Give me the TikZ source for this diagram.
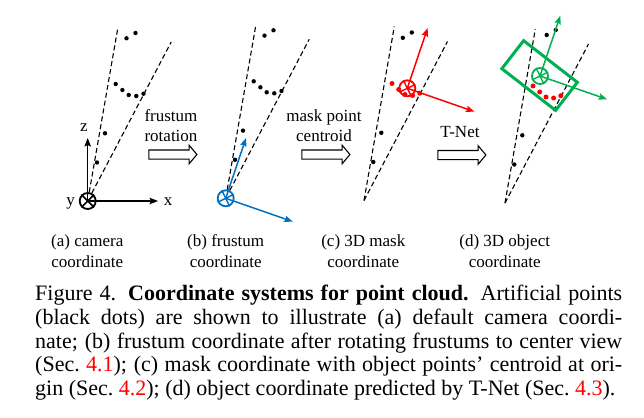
\documentclass[tikz,border=0pt]{standalone}
\usepackage{fontspec}
\setmainfont{Liberation Serif}
\usetikzlibrary{calc,positioning,shapes.arrows,arrows.meta}
\definecolor{camblue}{RGB}{0,112,192}
\definecolor{maskred}{RGB}{255,0,0}
\definecolor{objgreen}{RGB}{0,176,80}

\begin{document}
\begin{tikzpicture}
 [
  x = 1pt, y = -1pt,
  >={Stealth[length = 8.5pt, width = 6.5pt, inset = 1.5pt]},
  dot/.style  = {circle, fill = black, inner sep = 0pt, minimum size = 4.4pt},
  rdot/.style = {circle, fill = maskred, inner sep = 0pt, minimum size = 5pt},
  cam/.style  = {draw, circle, line width = 1.8pt, inner sep = 0pt, minimum size = 16pt},
  ray/.style  = {dash pattern = on 5pt off 3pt, line width = 1.1pt},
  ax/.style   = {->, line width = 1.5pt},
  flow/.style = {draw, single arrow, single arrow head extend = 4.8pt,
                 single arrow tip angle = 100, minimum width = 17.6pt,
                 minimum height = 48pt, inner xsep = 0pt, inner ysep = 4pt, line width = 1.1pt},
  txt/.style  = {font = \fontsize{17}{20}\selectfont, align = center, inner sep = 0pt},
 ]
 \useasboundingbox (0,0) rectangle (644,417);

 % (a) camera coordinate
 \node (ca) at (87.7,201) [cam]{};
 \draw[line width = 1.5pt] (ca.45) -- (ca.225) (ca.135) -- (ca.315);
 \coordinate (ca-l) at ($(ca)+(30.3,-174)$);
 \coordinate (ca-r) at ($(ca)+(83.5,-159)$);
 \draw[ray] (ca) -- (ca-l);
 \draw[ray] (ca) -- (ca-r);
 \foreach \dx/\dy [count=\i] in {38.8/-162.7, 47.8/-168, 28/-117, 34.7/-111, 41/-106,
                                 48.6/-105, 55.8/-107.3, 17.3/-67.7, 9.3/-38.5}
   \node[dot] (pa\i) at ($(ca)+(\dx,\dy)$) {};
 \coordinate (az) at (87.7,138);
 \coordinate (ax) at (158,201);
 \draw[ax] (ca.center) -- (az);
 \draw[ax] (ca.center) -- (ax);
 \node[txt, anchor = base] (zl) at (84,131) {z};
 \node[txt, anchor = base] (xl) at (168,205) {x};
 \node[txt, anchor = base] (yl) at (70.5,205) {y};

 % (b) frustum coordinate
 \node (cb) at (225.7,198.3) [cam, draw = camblue]{};
 \draw[line width = 1.4pt, camblue] (cb.26) -- (cb.206) (cb.116) -- (cb.296);
 \coordinate (cb-l) at ($(cb)+(30.3,-174)$);
 \coordinate (cb-r) at ($(cb)+(83.5,-159)$);
 \draw[ray] (cb) -- (cb-l);
 \draw[ray] (cb) -- (cb-r);
 \foreach \dx/\dy [count=\i] in {38.8/-162.7, 47.8/-168, 28/-117, 34.7/-111, 41/-106,
                                 48.6/-105, 55.8/-107.3, 17.3/-67.7, 9.3/-38.5}
   \node[dot] (pb\i) at ($(cb)+(\dx,\dy)$) {};
 \coordinate (bz) at ($(cb)+(20.3,-60.3)$);
 \coordinate (bx) at ($(cb)+(67.1,23.3)$);
 \draw[ax, camblue] (cb.center) -- (bz);
 \draw[ax, camblue] (cb.center) -- (bx);

 % (c) 3D mask coordinate
 \coordinate (fc) at (364,200.5);
 \coordinate (fc-l) at ($(fc)+(30.3,-174)$);
 \coordinate (fc-r) at ($(fc)+(83.5,-159)$);
 \draw[ray] (fc) -- (fc-l);
 \draw[ray] (fc) -- (fc-r);
 \foreach \dx/\dy [count=\i] in {38.8/-162.7, 47.8/-168, 17.3/-67.7, 9.3/-38.5}
   \node[dot] (pc\i) at ($(fc)+(\dx,\dy)$) {};
 \foreach \dx/\dy [count=\i] in {28/-117, 34.7/-111, 41/-106, 48.6/-105, 55.8/-107.3}
   \node[rdot] (rc\i) at ($(fc)+(\dx,\dy)$) {};
 \node (cc) at (407.3,88.3) [cam, draw = maskred]{};
 \draw[line width = 1.4pt, maskred] (cc.26) -- (cc.206) (cc.116) -- (cc.296);
 \coordinate (cz) at ($(cc)+(20.3,-60.3)$);
 \coordinate (cx) at ($(cc)+(67.1,23.3)$);
 \draw[ax, maskred] (cc.center) -- (cz);
 \draw[ax, maskred] (cc.center) -- (cx);

 % (d) 3D object coordinate
 \coordinate (fd) at (505,203);
 \coordinate (fd-l) at ($(fd)+(30.3,-174)$);
 \coordinate (fd-r) at ($(fd)+(83.5,-159)$);
 \draw[ray] (fd) -- (fd-l);
 \draw[ray] (fd) -- (fd-r);
 \foreach \dx/\dy [count=\i] in {41.7/-168, 50.7/-173, 17.3/-67.7, 9.3/-38.5}
   \node[dot] (pd\i) at ($(fd)+(\dx,\dy)$) {};
 \node (box) at (539.6,75.5) [draw = objgreen, line width = 3pt, inner sep = 0pt,
                              minimum width = 68pt, minimum height = 35.5pt, rotate = -37.8]{};
 \foreach \dx/\dy [count=\i] in {28/-117, 34.7/-111, 41/-106, 48.6/-105, 55.8/-107.3}
   \node[rdot] (rd\i) at ($(fd)+(\dx,\dy)$) {};
 \node (cd) at (540,76) [cam, draw = objgreen]{};
 \draw[line width = 1.4pt, objgreen] (cd.26) -- (cd.206) (cd.116) -- (cd.296);
 \coordinate (dz) at ($(cd)+(20.3,-60.3)$);
 \coordinate (dx) at ($(cd)+(67.1,23.3)$);
 \draw[ax, objgreen] (cd.center) -- (dz);
 \draw[ax, objgreen] (cd.center) -- (dx);

 % transforms between the systems
 \node[flow] (f1) at (171,154.5) {};
 \node[txt, above = 7.2pt of f1] (t1) {frustum\\rotation};
 \node[flow] (f2) at (324,154.5) {};
 \node[txt, above = 7.2pt of f2] (t2) {mask point\\centroid};
 \node[flow] (f3) at (460,155) {};
 \node[txt, above = 11.7pt of f3] (t3) {T-Net};

 % sub captions
 \node[txt, anchor = north, font = \fontsize{17}{21}\selectfont] (la) at (87.3,234.3) {(a) camera\\coordinate};
 \node[txt, anchor = north, font = \fontsize{17}{21}\selectfont] (lb) at (225.7,234.3) {(b) frustum\\coordinate};
 \node[txt, anchor = north, font = \fontsize{17}{21}\selectfont] (lc) at (363.3,234.3) {(c) 3D mask\\coordinate};
 \node[txt, anchor = north, font = \fontsize{17}{21}\selectfont] (ld) at (504.7,234.3) {(d) 3D object\\coordinate};

 % caption
 \node (cap) at (35,285) [anchor = north west, inner sep = 0pt, text width = 587pt, align = justify,
                          font = \fontsize{22}{23.7}\selectfont]
  {\parfillskip=0pt \tolerance=9999
   Figure 4. \textbf{Coordinate systems for point cloud.} Artificial points\linebreak
   (black dots) are shown to illustrate (a) default camera coordi-\linebreak
   nate; (b) frustum coordinate after rotating frustums to center view\linebreak
   (Sec.\ \textcolor{maskred}{4.1}); (c) mask coordinate with object points' centroid at ori-\linebreak
   gin (Sec.\ \textcolor{maskred}{4.2}); (d) object coordinate predicted by T-Net (Sec.\ \textcolor{maskred}{4.3}).};
\end{tikzpicture}
\end{document}
